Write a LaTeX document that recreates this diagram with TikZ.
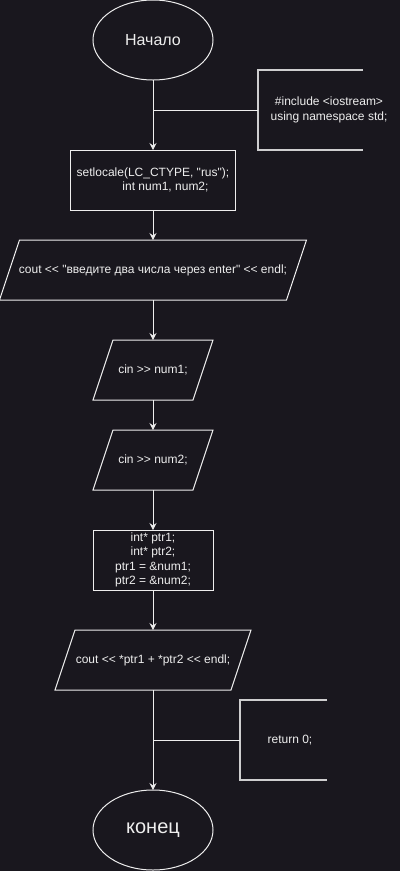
\documentclass[tikz,border=0pt]{standalone}
\usepackage{fontspec}
\newfontfamily\diafont{Liberation Sans}
\usetikzlibrary{shapes.geometric,arrows.meta}

\definecolor{bgdark}{RGB}{25,23,30}
\definecolor{inkwhite}{RGB}{238,238,238}

\tikzset{
    flow/.style={draw=inkwhite, line width=1pt, -{Stealth[length=7pt,width=7pt,inset=2.5pt]}},
    joinline/.style={draw=inkwhite, line width=1pt},
    bracket/.style={draw=inkwhite!85!bgdark, line width=1.8pt},
    terminal/.style={ellipse, draw=inkwhite, line width=1pt, text=inkwhite,
        minimum width=120pt, minimum height=80pt, inner sep=0pt, outer sep=0pt},
    procbox/.style={rectangle, draw=inkwhite, line width=1pt, text=inkwhite,
        minimum height=60pt, inner sep=2pt, outer sep=0pt, align=center,
        font=\diafont\fontsize{12}{14.4}\selectfont},
    % slanted in/out box: 20pt of skew over its 60pt height
    iobox/.style={rectangle, text=inkwhite, minimum height=60pt,
        inner xsep=0pt, outer sep=0pt,
        font=\diafont\fontsize{12}{14.4}\selectfont,
        append after command={\pgfextra{
            \draw[draw=inkwhite, line width=1pt, line join=miter]
                ([xshift=-10pt]\tikzlastnode.south west) -- ([xshift=-10pt]\tikzlastnode.south east)
                -- ([xshift=10pt]\tikzlastnode.north east) -- ([xshift=10pt]\tikzlastnode.north west)
                -- cycle;}}},
    notetext/.style={text=inkwhite, align=center, inner sep=0pt,
        font=\diafont\fontsize{12}{14.4}\selectfont},
}

\begin{document}
\begin{tikzpicture}[x=1pt, y=-1pt]
    % canvas
    \fill[bgdark] (0,0) rectangle (400,871);
    \useasboundingbox (0,0) rectangle (400,871);

    % main column
    \node[terminal, font=\diafont\fontsize{16}{19}\selectfont] (start) at (153,40) {Начало};
    \node[procbox, minimum width=165pt] (init) at (153,180)
        {setlocale(LC\_CTYPE, "rus");\\ \hspace*{25pt}int num1, num2;};
    \node[iobox, minimum width=287pt] (prompt) at (153,270)
        {cout << "введите два числа через enter" << endl;};
    \node[iobox, minimum width=100pt] (readone) at (153,370) {cin >> num1;};
    \node[iobox, minimum width=100pt] (readtwo) at (153,460) {cin >> num2;};
    \node[procbox, minimum width=120pt] (ptrs) at (153,560)
        {int* ptr1;\\ int* ptr2;\\ ptr1 = \&num1;\\ ptr2 = \&num2;};
    \node[iobox, minimum width=176pt] (sum) at (153,660)
        {cout << *ptr1 + *ptr2 << endl;};
    \node[terminal, font=\diafont\fontsize{20}{24}\selectfont] (finish) at (153,830) {конец};

    \foreach \from/\to in {start/init, init/prompt, prompt/readone,
                           readone/readtwo, readtwo/ptrs, ptrs/sum, sum/finish}
        \draw[flow] (\from) -- (\to);

    % header note
    \coordinate (headjoin) at (153,110);
    \coordinate (headbr) at (258,110);
    \draw[bracket] (363,70) -- (258,70) -- (258,150) -- (363,150);
    \draw[joinline] (headjoin) -- (headbr);
    \node[notetext] (headnote) at (329,110) {\#include <iostream>\\ using namespace std;};

    % return note
    \coordinate (retjoin) at (153,740);
    \coordinate (retbr) at (240,740);
    \draw[bracket] (327,700) -- (240,700) -- (240,780) -- (327,780);
    \draw[joinline] (retjoin) -- (retbr);
    \node[notetext] (retnote) at (290,740) {return 0;};
\end{tikzpicture}
\end{document}
